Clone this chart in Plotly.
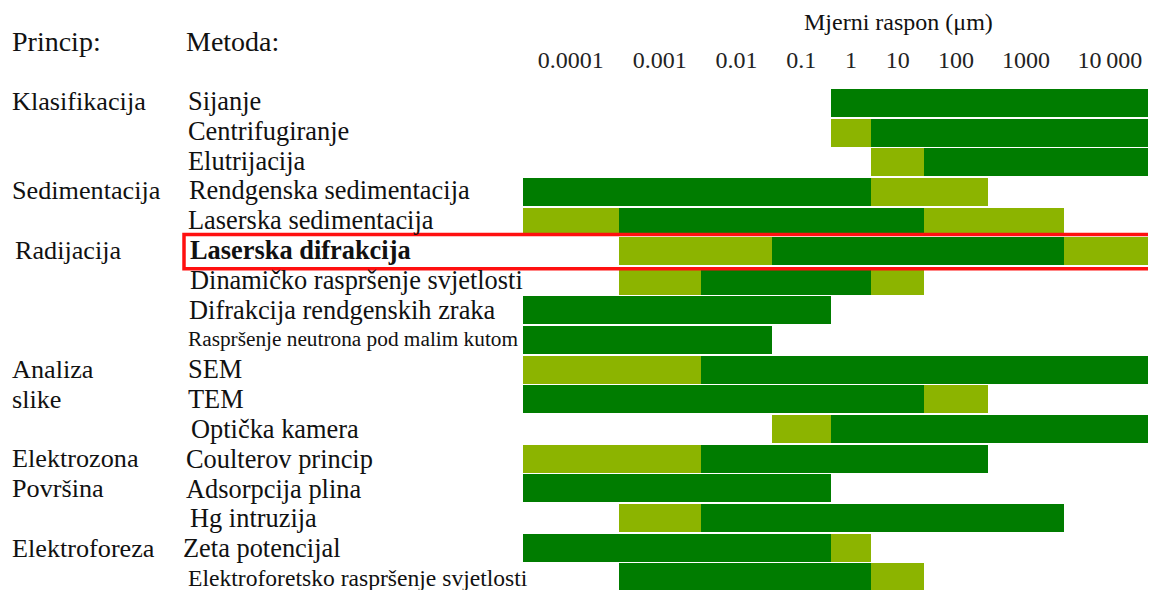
import plotly.graph_objects as go

# ---------------- data ----------------
# measuring-range columns (µm)
range_labels = ["0.0001", "0.001", "0.01", "0.1", "1", "10", "100", "1000", "10\u2009000"]

methods = ["Sijanje", "Centrifugiranje", "Elutrijacija", "Rendgenska sedimentacija",
           "Laserska sedimentacija", "Laserska difrakcija", "Dinamičko raspršenje svjetlosti",
           "Difrakcija rendgenskih zraka", "Raspršenje neutrona pod malim kutom", "SEM", "TEM",
           "Optička kamera", "Coulterov princip", "Adsorpcija plina", "Hg intruzija",
           "Zeta potencijal", "Elektroforetsko raspršenje svjetlosti"]

principles = ["Klasifikacija", "Sedimentacija", "Radijacija", "Analiza", "slike",
              "Elektrozona", "Površina", "Elektroforeza"]
principle_rows = [0, 3, 5, 9, 10, 12, 13, 15]

# main (dark) range per method: from column edge index to column edge index
main_from = [4, 5, 6, 0, 1, 3, 2, 0, 0, 2, 0, 4, 2, 0, 2, 0, 1]
main_to = [9, 9, 9, 5, 6, 8, 5, 4, 3, 9, 6, 9, 7, 4, 8, 4, 5]

# extended (light) range segments
ext_row = [1, 2, 3, 4, 4, 5, 5, 6, 6, 9, 10, 11, 12, 14, 15, 16]
ext_from = [4, 5, 5, 0, 6, 1, 8, 1, 5, 0, 6, 3, 0, 1, 4, 5]
ext_to = [5, 6, 7, 1, 8, 3, 9, 2, 6, 2, 7, 4, 2, 2, 5, 6]

highlight_row = 5

# ---------------- layout constants ----------------
OFF = 8                      # page body margin of the html page
W, H = 1176, 590 - OFF       # figure runs past the right window edge (table is cut there)
ML, MT = 523 - OFF, 89 - OFF
PW = W - ML
PH = H - MT
col_px = [95.7, 82.3, 71.0, 58.7, 40.7, 52.5, 64.3, 75.8, 91.7]  # visible column widths
edges = [0.0]
for w in col_px:
    edges.append(edges[-1] + w)
centers = [(edges[i] + edges[i + 1]) / 2 for i in range(len(col_px))]
bar_edges = edges[:-1] + [PW]   # last column is open-ended (cut by the window edge)
pitch = 29.64
row0_off = 14.0  # px from plot top to centre of first row

DARK = "#007c00"
LIGHT = "#8cb400"
FONT = "Liberation Serif"
TXT = "#111111"


def px_x(px):
    # reference-window pixel -> paper x
    return (px - OFF - ML) / PW


def px_y(py):
    # reference-window pixel -> paper y
    return (H - (py - OFF)) / PH


fig = go.Figure()
fig.add_trace(go.Bar(
    orientation="h",
    y=list(range(len(methods))),
    base=[bar_edges[f] for f in main_from],
    x=[bar_edges[t] - bar_edges[f] for f, t in zip(main_from, main_to)],
    marker=dict(color=DARK, line=dict(width=0)),
    width=0.945, hoverinfo="skip",
))
fig.add_trace(go.Bar(
    orientation="h",
    y=ext_row,
    base=[bar_edges[f] for f in ext_from],
    x=[bar_edges[t] - bar_edges[f] for f, t in zip(ext_from, ext_to)],
    marker=dict(color=LIGHT, line=dict(width=0)),
    width=0.945, hoverinfo="skip",
))

annotations = []
method_x = [186, 186, 186, 187, 186, 188, 188, 187, 186, 186, 186, 189, 184, 184, 188, 181, 186]
method_size = [26.4] * len(methods)
method_size[8] = 21.3
method_size[16] = 23.6
for i, m in enumerate(methods):
    annotations.append(dict(
        x=px_x(method_x[i]), xref="paper", y=i, yref="y",
        text=("<b>%s</b>" % m) if i == highlight_row else m,
        showarrow=False, xanchor="left", yanchor="middle", yshift=2 - 0.17 * i,
        font=dict(family=FONT, size=method_size[i], color=TXT)))

for p, r in zip(principles, principle_rows):
    annotations.append(dict(
        x=px_x(13 if p == "Radijacija" else 10), xref="paper", y=r, yref="y",
        text=p, showarrow=False, xanchor="left", yanchor="middle", yshift=2 - 0.17 * r,
        font=dict(family=FONT, size=26.2, color=TXT)))

for txt, px in [("Princip:", 10), ("Metoda:", 184)]:
    annotations.append(dict(
        x=px_x(px), xref="paper", y=px_y(42), yref="paper",
        text=txt, showarrow=False, xanchor="left", yanchor="middle",
        font=dict(family=FONT, size=28, color=TXT)))

annotations.append(dict(
    x=px_x(898), xref="paper", y=px_y(22), yref="paper",
    text="Mjerni raspon (μm)", showarrow=False, xanchor="center", yanchor="middle",
    font=dict(family=FONT, size=24, color=TXT)))

fig.update_layout(
    width=W, height=H,
    margin=dict(l=ML, r=0, t=MT, b=0, pad=0),
    paper_bgcolor="white", plot_bgcolor="white",
    showlegend=False, barmode="overlay", bargap=0,
    annotations=annotations,
    shapes=[dict(type="rect", xref="paper", yref="y",
                 x0=px_x(184), x1=1.02,
                 y0=highlight_row - 0.565, y1=highlight_row + 0.595,
                 line=dict(color="#ff1010", width=3.5), fillcolor="rgba(0,0,0,0)",
                 layer="above")],
    xaxis=dict(range=[0, PW], side="top", tickmode="array",
               tickvals=centers, ticktext=range_labels,
               tickfont=dict(family=FONT, size=24, color="#222222"),
               showgrid=False, zeroline=False, showline=False,
               ticks="outside", ticklen=10, tickcolor="rgba(0,0,0,0)", fixedrange=True),
    yaxis=dict(range=[(PH - row0_off) / pitch, -row0_off / pitch], visible=False,
               showgrid=False, zeroline=False, fixedrange=True),
)

fig.write_html("out.html")
